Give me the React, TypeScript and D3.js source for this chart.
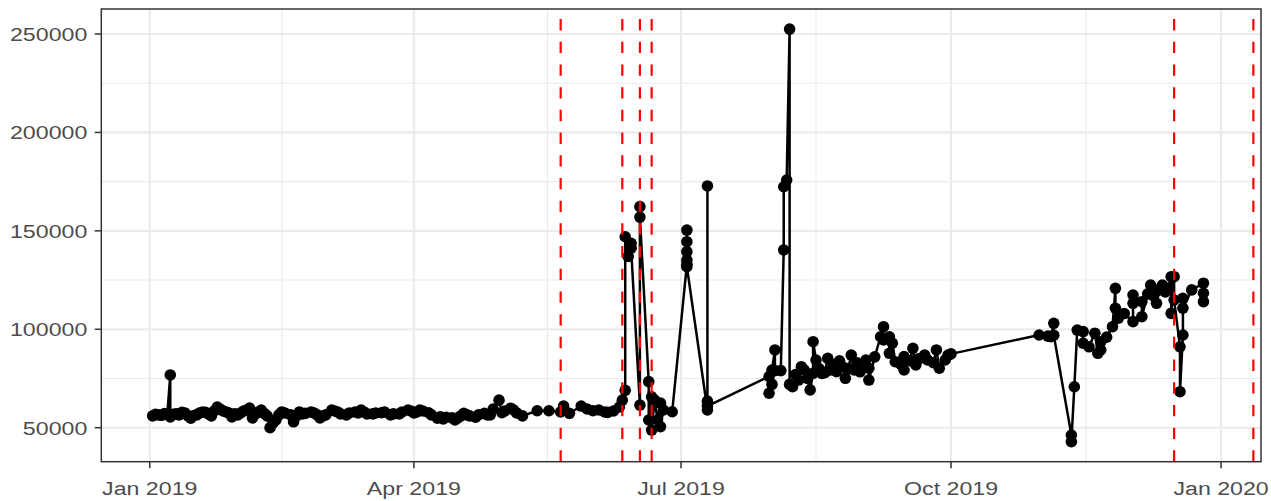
import React from "react";
import * as d3 from "d3";

const W = 1271;
const H = 501;

// Observations: [date, value]
const janToMay: [string, number][] = [
  ["2019-01-02", 56000], ["2019-01-03", 56800], ["2019-01-04", 56500], ["2019-01-05", 56300],
  ["2019-01-06", 57200], ["2019-01-07", 57000], ["2019-01-08", 76800], ["2019-01-08", 55500],
  ["2019-01-09", 56800], ["2019-01-10", 57000], ["2019-01-11", 56500], ["2019-01-12", 57800],
  ["2019-01-13", 57500], ["2019-01-14", 56000], ["2019-01-15", 54800], ["2019-01-16", 56200],
  ["2019-01-17", 56500], ["2019-01-18", 57500], ["2019-01-19", 58000], ["2019-01-20", 57800],
  ["2019-01-21", 57000], ["2019-01-22", 56000], ["2019-01-23", 58500], ["2019-01-24", 60500],
  ["2019-01-25", 59500], ["2019-01-26", 58500], ["2019-01-27", 58000], ["2019-01-28", 57500],
  ["2019-01-29", 55500], ["2019-01-30", 57000], ["2019-01-31", 56500], ["2019-02-01", 57500],
  ["2019-02-02", 58500], ["2019-02-03", 59000], ["2019-02-04", 60000], ["2019-02-05", 55000],
  ["2019-02-06", 57000], ["2019-02-07", 58000], ["2019-02-08", 59000], ["2019-02-09", 57300],
  ["2019-02-10", 56000], ["2019-02-11", 50000], ["2019-02-12", 52500], ["2019-02-13", 54000],
  ["2019-02-14", 56500], ["2019-02-15", 58000], ["2019-02-16", 57500], ["2019-02-18", 56500],
  ["2019-02-19", 53000], ["2019-02-20", 56000], ["2019-02-21", 58000], ["2019-02-22", 57000],
  ["2019-02-23", 57300], ["2019-02-25", 58000], ["2019-02-26", 57500], ["2019-02-27", 56500],
  ["2019-02-28", 55000], ["2019-03-01", 56000], ["2019-03-02", 56500], ["2019-03-04", 59000],
  ["2019-03-05", 58500], ["2019-03-06", 58000], ["2019-03-07", 57000], ["2019-03-09", 56500],
  ["2019-03-10", 57500], ["2019-03-12", 58000], ["2019-03-13", 57500], ["2019-03-14", 59000],
  ["2019-03-15", 58000], ["2019-03-16", 57000], ["2019-03-18", 57000], ["2019-03-19", 57500],
  ["2019-03-21", 57600], ["2019-03-22", 58000], ["2019-03-24", 56500], ["2019-03-25", 57000],
  ["2019-03-27", 57000], ["2019-03-28", 58000], ["2019-03-30", 59000], ["2019-03-31", 58500],
  ["2019-04-01", 57500], ["2019-04-02", 58000], ["2019-04-03", 59000], ["2019-04-04", 58500],
  ["2019-04-06", 57600], ["2019-04-07", 56500], ["2019-04-09", 54800], ["2019-04-10", 55500],
  ["2019-04-11", 54500], ["2019-04-12", 55300], ["2019-04-14", 55000], ["2019-04-15", 54000],
  ["2019-04-16", 55000], ["2019-04-17", 56000], ["2019-04-18", 57300], ["2019-04-19", 56500],
  ["2019-04-20", 56000], ["2019-04-22", 55300], ["2019-04-23", 56500], ["2019-04-25", 57300],
  ["2019-04-26", 56500], ["2019-04-27", 56500], ["2019-04-28", 59500], ["2019-04-30", 64000],
  ["2019-05-01", 57600], ["2019-05-02", 58500], ["2019-05-04", 59900], ["2019-05-05", 59000],
  ["2019-05-06", 57500], ["2019-05-08", 56000], ["2019-05-13", 58600], ["2019-05-17", 58600],
  ["2019-05-21", 58000], ["2019-05-22", 61000], ["2019-05-24", 57300], ["2019-05-28", 61000],
  ["2019-05-30", 59500],
];

const june: [string, number][] = [
  ["2019-06-01", 58600], ["2019-06-03", 59000], ["2019-06-05", 58000], ["2019-06-06", 57800],
  ["2019-06-08", 58500], ["2019-06-10", 60500], ["2019-06-11", 64000], ["2019-06-12", 69000],
  ["2019-06-12", 147000], ["2019-06-13", 137000], ["2019-06-14", 143700], ["2019-06-14", 141200],
  ["2019-06-17", 61500], ["2019-06-17", 162300], ["2019-06-17", 157000], ["2019-06-20", 73400],
  ["2019-06-20", 53900], ["2019-06-21", 65700], ["2019-06-21", 48800], ["2019-06-22", 64000],
  ["2019-06-23", 53900], ["2019-06-24", 62500], ["2019-06-24", 50500], ["2019-06-25", 59000],
  ["2019-06-28", 58100],
];

const july: [string, number][] = [
  ["2019-07-03", 133000], ["2019-07-03", 150400], ["2019-07-03", 144500], ["2019-07-03", 139400],
  ["2019-07-03", 135200], ["2019-07-03", 131800], ["2019-07-10", 59000], ["2019-07-10", 172800],
  ["2019-07-10", 63500], ["2019-07-10", 61000],
];

const august: [string, number][] = [
  ["2019-07-31", 76000], ["2019-07-31", 67500], ["2019-08-01", 72000], ["2019-08-01", 79300],
  ["2019-08-02", 89500], ["2019-08-02", 79000], ["2019-08-04", 79000], ["2019-08-05", 140300],
  ["2019-08-05", 172400], ["2019-08-06", 175800], ["2019-08-07", 252500], ["2019-08-07", 72000],
  ["2019-08-08", 70800], ["2019-08-09", 77000], ["2019-08-10", 74200], ["2019-08-11", 81000],
  ["2019-08-12", 79300], ["2019-08-13", 75000], ["2019-08-14", 69200], ["2019-08-15", 77600],
  ["2019-08-15", 93700], ["2019-08-16", 84400], ["2019-08-17", 80000], ["2019-08-18", 77600],
  ["2019-08-19", 78000], ["2019-08-20", 85200], ["2019-08-21", 79300], ["2019-08-22", 82000],
  ["2019-08-23", 78500], ["2019-08-24", 84000], ["2019-08-25", 81000], ["2019-08-26", 75100],
  ["2019-08-27", 80000], ["2019-08-28", 86900], ["2019-08-29", 79300], ["2019-08-30", 83000],
  ["2019-08-31", 78400],
];

const september: [string, number][] = [
  ["2019-09-02", 84400], ["2019-09-03", 80200], ["2019-09-03", 74200], ["2019-09-05", 86000],
  ["2019-09-07", 96200], ["2019-09-08", 101300], ["2019-09-08", 94600], ["2019-09-10", 96200],
  ["2019-09-10", 87800], ["2019-09-11", 92900], ["2019-09-12", 83500], ["2019-09-14", 82000],
  ["2019-09-15", 79300], ["2019-09-15", 86100], ["2019-09-17", 84000], ["2019-09-18", 90300],
  ["2019-09-19", 81900], ["2019-09-20", 85000], ["2019-09-22", 86900], ["2019-09-23", 84400],
  ["2019-09-25", 83000], ["2019-09-26", 89500], ["2019-09-27", 80200], ["2019-09-29", 84400],
  ["2019-09-30", 86900], ["2019-10-01", 87500],
];

const novDec: [string, number][] = [
  ["2019-10-31", 97100], ["2019-11-03", 96500], ["2019-11-04", 96200], ["2019-11-05", 103000],
  ["2019-11-05", 97000], ["2019-11-11", 46300], ["2019-11-11", 42900], ["2019-11-12", 70800],
  ["2019-11-13", 99600], ["2019-11-15", 98800], ["2019-11-15", 92900], ["2019-11-17", 91100],
  ["2019-11-19", 98000], ["2019-11-20", 87800], ["2019-11-21", 93700], ["2019-11-21", 89500],
  ["2019-11-23", 96000], ["2019-11-25", 101300], ["2019-11-26", 120800], ["2019-11-26", 110700],
  ["2019-11-27", 105600], ["2019-11-29", 108000], ["2019-12-02", 103900], ["2019-12-02", 113200],
  ["2019-12-02", 117400], ["2019-12-05", 114000], ["2019-12-05", 106400], ["2019-12-07", 118000],
  ["2019-12-08", 122500], ["2019-12-09", 117000], ["2019-12-10", 113200], ["2019-12-11", 120000],
  ["2019-12-12", 122500], ["2019-12-13", 119000], ["2019-12-14", 121000], ["2019-12-15", 126700],
  ["2019-12-15", 108100], ["2019-12-16", 126700], ["2019-12-16", 114900], ["2019-12-18", 91100],
  ["2019-12-18", 68300], ["2019-12-19", 97100], ["2019-12-19", 115700], ["2019-12-19", 110700],
  ["2019-12-22", 120000], ["2019-12-26", 123400], ["2019-12-26", 118300], ["2019-12-26", 114000],
];

const eventDates: string[] = [
  "2019-05-21", "2019-06-11", "2019-06-17", "2019-06-21", "2019-12-16", "2020-01-12",
];

const xTickDates: string[] = ["2019-01-01", "2019-04-01", "2019-07-01", "2019-10-01", "2020-01-01"];
const yTicks: number[] = [50000, 100000, 150000, 200000, 250000];
const yMinor: number[] = [75000, 125000, 175000, 225000];

const FONT = "'Liberation Sans', Arial, Helvetica, sans-serif";

export default function App() {
  const parse = d3.utcParse("%Y-%m-%d");
  const data = [...janToMay, ...june, ...july, ...august, ...september, ...novDec].map(
    ([d, v]) => ({ date: parse(d) as Date, value: v })
  );

  const DAY = 864e5;
  const origin = Date.UTC(2019, 0, 1);
  const left = 101.3, right = 1261, top = 9, bottom = 461.7;

  const x = d3
    .scaleUtc()
    .domain([new Date(origin - 16.5 * DAY), new Date(origin + 378.6 * DAY)])
    .range([left, right]);
  const y = d3.scaleLinear().domain([32728, 262700]).range([bottom, top]);

  const xTicks = xTickDates.map((d) => parse(d) as Date);
  const xMinor = xTicks.slice(0, -1).map((d, i) => new Date((d.getTime() + xTicks[i + 1].getTime()) / 2));
  const fmt = d3.utcFormat("%b %Y");

  const line = d3
    .line<{ date: Date; value: number }>()
    .x((d) => x(d.date))
    .y((d) => y(d.value));

  const sx = 1.22;
  const fs = 19;

  return (
    <svg width={W} height={H} style={{ position: "absolute", left: 0, top: 0, background: "#fff" }}>
      <rect x={0} y={0} width={W} height={H} fill="#fff" />
      <rect x={left} y={top} width={right - left} height={bottom - top} fill="#fff" />
      {yMinor.map((v) => (
        <line key={"ym" + v} x1={left} x2={right} y1={y(v)} y2={y(v)} stroke="#EBEBEB" strokeWidth={1.1} />
      ))}
      {xMinor.map((d, i) => (
        <line key={"xm" + i} x1={x(d)} x2={x(d)} y1={top} y2={bottom} stroke="#EBEBEB" strokeWidth={1.1} />
      ))}
      {yTicks.map((v) => (
        <line key={"yg" + v} x1={left} x2={right} y1={y(v)} y2={y(v)} stroke="#EBEBEB" strokeWidth={2.1} />
      ))}
      {xTicks.map((d, i) => (
        <line key={"xg" + i} x1={x(d)} x2={x(d)} y1={top} y2={bottom} stroke="#EBEBEB" strokeWidth={2.1} />
      ))}
      <path d={line(data) || ""} fill="none" stroke="#000" strokeWidth={2.5} strokeLinejoin="round" />
      {data.map((d, i) => (
        <circle key={i} cx={x(d.date)} cy={y(d.value)} r={5.8} fill="#000" />
      ))}
      {eventDates.map((s) => {
        const xx = x(parse(s) as Date);
        return (
          <line
            key={s}
            x1={xx}
            x2={xx}
            y1={bottom}
            y2={top}
            stroke="#FF0000"
            strokeWidth={2.2}
            strokeDasharray="11.35 11.35"
          />
        );
      })}
      <rect x={left} y={top} width={right - left} height={bottom - top} fill="none" stroke="#333333" strokeWidth={1.5} />
      {yTicks.map((v) => (
        <g key={"yt" + v}>
          <line x1={left - 6.5} x2={left} y1={y(v)} y2={y(v)} stroke="#333333" strokeWidth={1.5} />
          <text
            transform={`translate(87.3,${y(v) + 6.8}) scale(${sx},1)`}
            textAnchor="end"
            fontFamily={FONT}
            fontSize={fs}
            fill="#4D4D4D"
          >
            {v}
          </text>
        </g>
      ))}
      {xTicks.map((d, i) => (
        <g key={"xt" + i}>
          <line x1={x(d)} x2={x(d)} y1={bottom} y2={bottom + 6.5} stroke="#333333" strokeWidth={1.5} />
          <text
            transform={`translate(${x(d)},494.8) scale(${sx},1)`}
            textAnchor="middle"
            fontFamily={FONT}
            fontSize={fs}
            fill="#4D4D4D"
          >
            {fmt(d)}
          </text>
        </g>
      ))}
    </svg>
  );
}
